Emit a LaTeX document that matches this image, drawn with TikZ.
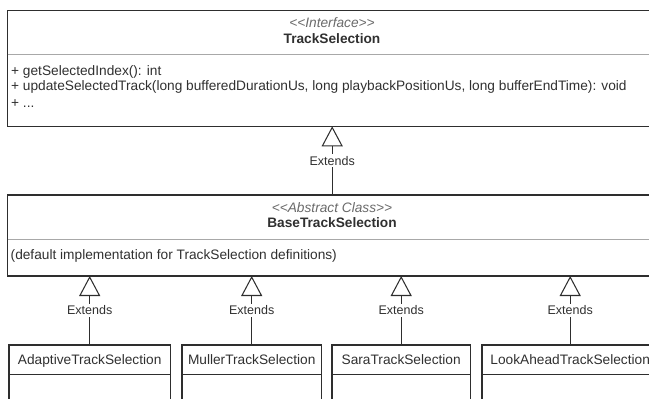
\documentclass[tikz,border=0pt]{standalone}
\usepackage{fontspec}
\setmainfont{Liberation Sans}
\usetikzlibrary{arrows.meta,calc}

\definecolor{ink}{HTML}{303030}
\definecolor{edge}{HTML}{2E2E2E}
\definecolor{soft}{HTML}{A8A8A8}
\definecolor{stereo}{HTML}{6A6A6A}

\tikzset{
  txt/.style={font=\fontsize{13.7}{16}\selectfont, text=ink, inner sep=0pt},
  stereotype/.style={txt, text=stereo, font=\fontsize{13.7}{16}\selectfont\itshape},
  title/.style={txt, font=\fontsize{13.7}{16}\selectfont\bfseries},
  part/.style={draw=none, inner sep=0pt, anchor=north west, minimum width=#1},
  frame/.style={draw=edge, line width=1.5pt},
  smallframe/.style={draw=edge, line width=1.05pt},
  divider/.style={draw=soft, line width=1pt},
  subrule/.style={draw=edge, line width=1pt},
  extends/.style={draw=edge, line width=1.15pt,
    -{Triangle[open, length=20pt, width=21pt, line width=1.05pt]}},
  lbl/.style={txt, font=\fontsize{12.5}{14}\selectfont, fill=white, inner sep=2pt},
}

\begin{document}
\begin{tikzpicture}[x=1pt, y=-1pt]
\useasboundingbox (0,0) rectangle (649,399);
\clip (0,0) rectangle (649,399);

% ---------------- interface TrackSelection ----------------
\node[part=649pt, minimum height=43.5pt] (tsHead) at (7.5,10.5) {};
\node[part=649pt, minimum height=71.5pt] (tsBody) at (tsHead.south west) {};
\draw[frame] (tsHead.north west) rectangle (tsBody.south east);
\draw[divider] (tsHead.south west) -- (tsHead.south east);
\node[stereotype, anchor=base] (tsSt) at (332,27.6) {{<}{<}Interface{>}{>}};
\node[title, anchor=base] (tsName) at (332,43.2) {TrackSelection};
\node[txt, anchor=base west] (tsM1) at (11,75.4) {+ getSelectedIndex(): int};
\node[txt, anchor=base west] (tsM2) at (11,90.9) {+ updateSelectedTrack(long bufferedDurationUs, long playbackPositionUs, long bufferEndTime): void};
\node[txt, anchor=base west] (tsM3) at (11,107) {+ ...};

% ---------------- abstract class BaseTrackSelection ----------------
\node[part=649pt, minimum height=43.5pt] (bsHead) at (7.5,195.2) {};
\node[part=649pt, minimum height=36.5pt] (bsBody) at (bsHead.south west) {};
\draw[frame] (bsHead.north west) rectangle (bsBody.south east);
\draw[divider] (bsHead.south west) -- (bsHead.south east);
\node[stereotype, anchor=base] (bsSt) at (332,212.2) {{<}{<}Abstract Class{>}{>}};
\node[title, anchor=base] (bsName) at (332,227.6) {BaseTrackSelection};
\node[txt, anchor=base west] (bsNote) at (10.5,259.9) {(default implementation for TrackSelection definitions)};

% ---------------- concrete selections ----------------
\node[part=161pt, minimum height=29.5pt] (adHead) at (9,345) {};
\node[part=161pt, minimum height=40pt] (adBody) at (adHead.south west) {};
\node[part=139pt, minimum height=29.5pt] (muHead) at (182,345) {};
\node[part=139pt, minimum height=40pt] (muBody) at (muHead.south west) {};
\node[part=138pt, minimum height=29.5pt] (saHead) at (332,345) {};
\node[part=138pt, minimum height=40pt] (saBody) at (saHead.south west) {};
\node[part=176pt, minimum height=29.5pt] (laHead) at (482,345) {};
\node[part=176pt, minimum height=40pt] (laBody) at (laHead.south west) {};

\foreach \c in {ad,mu,sa,la}{
  \draw[smallframe] (\c Head.north west) rectangle (\c Body.south east);
  \draw[subrule] (\c Head.south west) -- (\c Head.south east);
}

\node[txt, anchor=base] (adName) at ($(adHead.north)+(0,19.9)$) {AdaptiveTrackSelection};
\node[txt, anchor=base] (muName) at ($(muHead.north)+(0,19.9)$) {MullerTrackSelection};
\node[txt, anchor=base] (saName) at ($(saHead.north)+(0,19.9)$) {SaraTrackSelection};
\node[txt, anchor=base] (laName) at ($(laHead.north)+(0,19.9)$) {LookAheadTrackSelection};

% ---------------- generalisations ----------------
\draw[extends] (bsHead.north) -- node[lbl, midway] (e0) {Extends} (tsBody.south);
\draw[extends] (adHead.north) -- node[lbl, midway] (e1) {Extends} (adHead.north |- bsBody.south);
\draw[extends] (muHead.north) -- node[lbl, midway] (e2) {Extends} (muHead.north |- bsBody.south);
\draw[extends] (saHead.north) -- node[lbl, midway] (e3) {Extends} (saHead.north |- bsBody.south);
\draw[extends] (laHead.north) -- node[lbl, midway] (e4) {Extends} (laHead.north |- bsBody.south);
\end{tikzpicture}
\end{document}
